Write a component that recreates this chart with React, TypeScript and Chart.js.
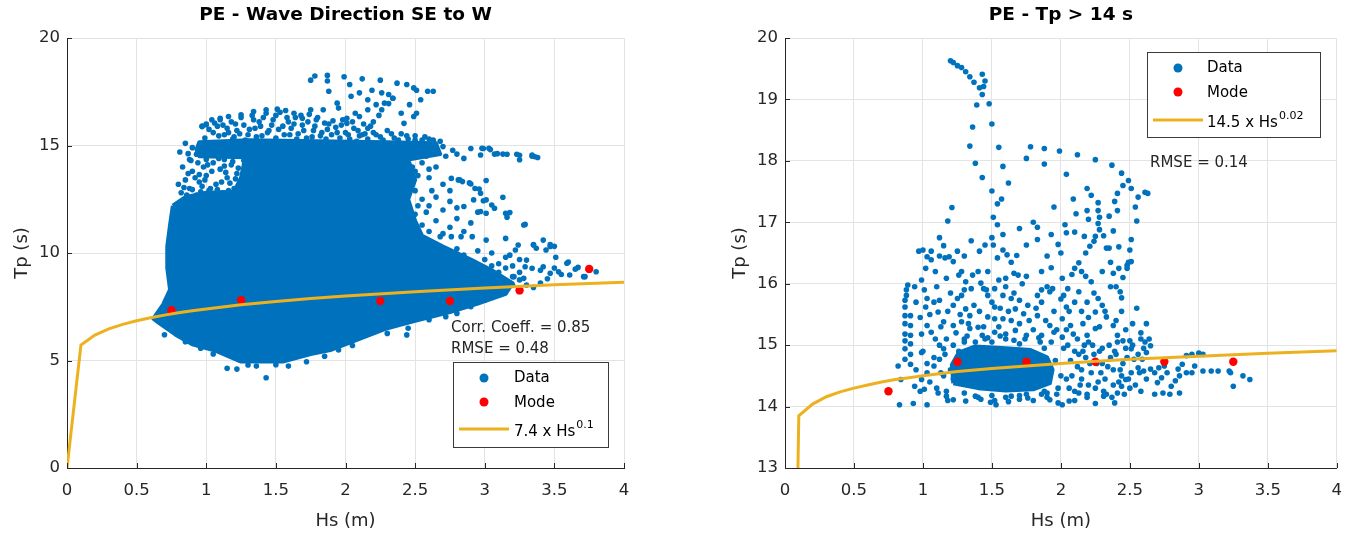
import React, { useEffect, useRef } from "react";
import { Chart, registerables } from "chart.js";
Chart.register(...registerables);

const FONT = '"DejaVu Sans", "Liberation Sans", sans-serif';
const BLUE = "#0072BD";
const RED = "#FF0000";
const GOLD = "#EDB120";
const AXIS = "#262626";
const GRID = "#e3e3e3";

const xTicks = [0, 0.5, 1, 1.5, 2, 2.5, 3, 3.5, 4];
const leftYTicks = [0, 5, 10, 15, 20];
const rightYTicks = [13, 14, 15, 16, 17, 18, 19, 20];

// ---------- Left panel: PE - Wave Direction SE to W ----------
const leftFitHs = [0, 0.1, 0.2, 0.3, 0.4, 0.5, 0.6, 0.7, 0.8, 0.9, 1, 1.25, 1.5, 1.75, 2, 2.5, 3, 3.5, 4];
const leftFitTp = [0, 5.72, 6.18, 6.47, 6.68, 6.85, 6.99, 7.11, 7.22, 7.31, 7.4, 7.59, 7.74, 7.88, 8.0, 8.2, 8.37, 8.52, 8.64];

const leftModeHs = [0.75, 1.25, 2.25, 2.75, 3.25, 3.75];
const leftModeTp = [7.34, 7.81, 7.77, 7.77, 8.26, 9.26];

// outline of the region where the data points overlap into a solid area
const leftDenseOutline: [number, number][] = [
  [0.76, 12.2], [0.85, 12.6], [1.0, 12.8], [1.2, 12.85], [1.25, 13.5], [1.28, 14.45], [0.95, 14.5], [0.93, 14.8],
  [0.95, 15.15], [1.3, 15.25], [1.8, 15.2], [2.3, 15.15], [2.65, 15.1], [2.68, 14.6], [2.45, 14.35], [2.5, 13.4],
  [2.45, 12.5], [2.5, 11.5], [2.55, 10.8], [2.7, 10.3], [2.9, 9.7], [3.05, 9.2], [3.2, 8.6], [3.15, 8.1],
  [2.95, 7.65], [2.75, 7.25], [2.5, 6.85], [2.3, 6.5], [2.1, 6.0], [1.9, 5.5], [1.75, 5.3], [1.55, 4.95],
  [1.25, 4.95], [1.07, 5.45], [0.9, 5.75], [0.78, 6.2], [0.66, 6.75], [0.62, 6.95], [0.69, 7.6], [0.74, 8.3],
  [0.72, 9.3], [0.72, 10.3], [0.74, 11.3], [0.76, 12.2],
];

const leftSparse: [number, number][] = [
  [1.78, 18.23], [1.75, 18.04], [1.87, 18.26], [1.87, 18.0], [1.99, 18.2], [2.12, 18.1], [2.25, 18.04], [2.37, 17.9],
  [2.44, 17.84], [2.49, 17.68], [2.51, 17.57], [2.59, 17.52], [2.63, 17.52], [2.19, 17.57], [2.26, 17.45], [2.34, 17.2],
  [2.28, 16.97], [2.16, 17.13], [2.1, 17.45], [2.03, 17.84], [1.94, 16.97], [2.04, 17.29], [1.88, 17.52], [1.95, 16.74],
  [1.84, 16.66], [1.75, 16.66], [2.26, 16.66], [2.4, 16.5], [2.51, 16.5], [2.46, 16.9], [2.54, 17.13], [2.49, 16.35],
  [2.42, 16.03], [2.1, 16.35], [2.01, 16.03], [2.01, 16.27], [2.07, 16.5], [2.16, 16.66], [2.22, 16.9], [2.31, 17.37],
  [2.08, 15.2], [2.12, 15.5], [2.16, 15.8], [2.2, 16.1], [2.24, 16.4], [2.31, 16.95], [2.34, 17.2],
  [1.43, 16.66], [1.51, 16.69], [1.57, 16.63], [1.63, 16.5], [1.69, 16.27], [1.34, 16.58], [1.25, 16.43], [1.16, 16.35],
  [1.1, 16.27], [1.0, 15.96], [0.97, 15.88], [1.04, 16.2],
  [0.97, 15.9], [1.0, 16.0], [1.05, 15.6], [1.08, 15.9], [1.1, 16.2], [1.13, 15.5], [1.15, 15.8], [1.18, 16.1],
  [1.2, 15.4], [1.22, 15.7], [1.25, 16.3], [1.27, 15.95], [1.3, 15.5], [1.33, 16.4], [1.35, 15.8], [1.38, 16.1],
  [1.4, 15.45], [1.43, 16.5], [1.45, 15.7], [1.48, 16.2], [1.5, 15.35], [1.53, 16.55], [1.55, 15.9], [1.58, 16.3],
  [1.6, 15.5], [1.63, 16.0], [1.65, 15.3], [1.68, 16.4], [1.7, 15.7], [1.73, 16.1], [1.76, 15.4], [1.78, 15.9],
  [1.8, 16.3], [1.83, 15.6], [1.86, 15.3], [1.88, 16.0], [1.9, 15.5], [1.93, 15.85], [1.96, 15.35], [1.98, 16.2],
  [2.0, 15.6], [2.03, 15.3], [2.06, 15.8], [2.1, 15.45], [2.13, 16.0], [2.16, 15.3], [2.2, 15.6], [2.25, 15.4],
  [2.3, 15.7], [2.35, 15.35], [2.4, 15.55], [2.45, 15.3], [2.5, 15.45], [2.55, 15.25], [2.6, 15.3], [2.7, 14.95],
  [0.99, 15.35], [1.02, 15.75], [1.06, 16.05], [1.09, 15.45], [1.12, 15.95], [1.16, 15.6], [1.19, 15.3], [1.21, 16.0],
  [1.24, 15.55], [1.28, 15.25], [1.31, 15.75], [1.34, 16.2], [1.36, 15.4], [1.39, 15.9], [1.41, 16.3], [1.44, 15.6],
  [1.47, 15.95], [1.5, 16.4], [1.52, 15.75], [1.56, 15.5], [1.59, 16.1], [1.61, 15.8], [1.64, 16.3], [1.66, 15.55],
  [1.69, 15.95], [1.72, 15.35], [1.74, 16.45], [1.77, 15.7], [1.79, 16.2], [1.82, 15.45], [1.85, 16.05], [1.87, 15.75],
  [1.91, 16.15], [1.94, 15.6], [1.97, 15.95], [2.02, 15.5], [2.05, 16.1], [2.09, 15.7], [2.14, 15.55], [2.18, 15.9],
  [2.22, 15.5], [2.27, 15.25], [2.33, 15.55], [2.38, 15.25], [2.44, 15.45], [2.5, 15.25], [2.57, 15.4], [2.63, 15.25],
  [2.68, 15.2],
  [0.81, 14.7], [0.87, 14.62], [0.93, 14.59], [0.85, 15.1], [0.9, 14.9], [0.88, 14.35],
  [2.77, 14.78], [2.9, 14.86], [2.99, 14.86], [3.04, 14.81], [3.09, 14.62], [3.16, 14.59], [3.25, 14.55], [3.25, 14.34],
  [3.34, 14.5], [3.38, 14.44], [3.34, 14.56], [3.36, 14.48], [3.23, 14.59], [3.13, 14.6], [3.07, 14.6], [3.03, 14.87],
  [2.98, 14.87], [2.97, 14.56], [2.72, 14.5], [2.8, 14.6], [2.85, 14.4],
  [2.76, 13.47], [2.81, 13.4], [2.84, 13.32], [2.89, 13.26], [2.93, 13.0], [2.97, 12.78], [3.01, 12.47], [3.05, 12.23],
  [3.07, 12.08], [3.15, 11.85], [3.16, 11.66], [3.28, 11.3], [2.92, 12.47], [2.85, 12.16], [2.97, 11.93], [3.01, 11.85],
  [3.13, 12.59], [2.99, 12.43], [3.18, 11.88], [3.29, 11.33], [3.01, 13.37], [2.96, 12.98], [2.9, 13.21], [2.82, 13.4],
  [2.75, 12.9],
  [2.5, 13.8], [2.55, 14.2], [2.6, 13.5], [2.65, 14.0], [2.7, 13.2], [2.5, 12.9], [2.55, 12.5], [2.6, 12.2],
  [2.65, 12.6], [2.7, 12.0], [2.75, 12.4], [2.8, 12.1], [2.5, 11.8], [2.55, 11.3], [2.6, 11.0], [2.65, 11.5],
  [2.7, 10.9], [2.75, 11.2], [2.8, 11.6], [2.85, 11.0], [2.9, 11.4], [2.95, 11.9], [2.5, 10.5], [2.55, 10.1],
  [2.65, 10.4], [2.7, 10.0], [2.75, 9.7], [2.8, 10.2], [2.85, 9.9], [2.9, 9.6], [2.95, 10.1], [3.0, 9.7],
  [3.05, 10.0], [3.1, 9.5], [3.15, 9.8], [3.2, 9.4], [3.25, 9.7],
  [2.48, 14.0], [2.52, 13.6], [2.47, 13.0], [2.52, 12.2], [2.58, 11.9], [2.6, 13.9], [2.58, 14.5], [2.62, 12.9],
  [3.42, 10.6], [3.47, 10.3], [3.44, 10.14], [3.37, 10.22], [3.35, 10.37], [3.24, 10.37], [3.22, 10.14], [3.18, 9.9],
  [3.3, 9.67], [3.15, 10.68], [3.01, 10.6], [2.91, 10.76], [2.83, 10.76], [2.76, 10.76], [2.68, 10.76], [3.51, 9.8],
  [3.47, 10.39], [3.5, 10.31], [3.35, 10.39],
  [3.59, 9.52], [3.67, 9.33], [3.8, 9.13], [3.71, 8.9], [3.61, 8.98], [3.53, 9.13], [3.47, 9.06], [3.42, 9.36],
  [3.34, 9.29], [3.29, 9.36], [3.28, 8.82], [3.21, 8.9], [3.16, 8.67], [3.11, 8.82], [3.06, 8.51], [3.3, 8.51],
  [3.6, 9.58], [3.4, 8.6], [3.2, 8.5], [3.35, 8.4], [3.25, 8.75], [3.45, 8.8], [3.55, 9.0], [3.0, 8.9],
  [3.05, 9.4], [3.1, 9.1], [3.15, 9.3], [3.2, 8.9], [3.25, 9.1], [3.4, 9.2], [3.5, 9.3], [3.65, 9.25], [3.72, 8.9],
  [2.72, 7.04], [2.8, 7.19], [2.9, 7.5], [3.0, 7.8], [2.6, 6.9], [2.45, 6.5], [2.44, 6.19], [2.3, 6.26],
  [1.15, 4.64], [1.22, 4.6], [1.43, 4.2], [1.3, 4.79], [1.36, 4.74], [1.59, 4.74], [1.72, 4.94], [1.95, 5.49],
  [0.96, 5.57], [0.85, 5.87], [1.05, 5.3], [1.5, 4.8], [1.85, 5.2], [2.05, 5.7], [0.7, 6.2],
  [0.82, 12.8], [0.85, 13.4], [0.88, 13.0], [0.9, 13.8], [0.93, 12.7], [0.95, 13.3], [0.98, 14.0], [1.0, 13.6],
  [1.02, 12.9], [1.05, 14.2], [1.07, 13.2], [1.1, 13.9], [1.12, 12.8], [1.15, 13.5], [1.18, 14.1], [1.2, 13.0],
  [1.22, 13.7], [1.27, 14.3], [0.97, 13.1], [1.08, 12.95], [1.17, 13.25], [1.13, 14.35], [0.9, 12.95],
  [0.8, 13.2], [0.83, 14.0], [0.86, 12.7], [0.87, 13.7], [0.89, 14.3], [0.92, 13.5], [0.94, 14.2], [0.96, 12.85],
  [0.99, 13.4], [1.01, 14.1], [1.03, 13.0], [1.04, 13.8], [1.06, 12.75], [1.09, 14.4], [1.11, 13.3], [1.14, 13.75],
  [1.16, 12.9], [1.19, 14.25], [1.21, 13.45], [1.23, 13.95], [0.84, 13.05], [0.95, 13.65], [1.0, 14.35], [1.13, 14.05],
];

// ---------- Right panel: PE - Tp > 14 s ----------
const rightFitHs = [0, 0.1, 0.2, 0.3, 0.4, 0.5, 0.6, 0.7, 0.8, 0.9, 1, 1.25, 1.5, 1.75, 2, 2.5, 3, 3.5, 4];
const rightFitTp = [0, 13.85, 14.04, 14.16, 14.24, 14.3, 14.35, 14.4, 14.44, 14.47, 14.5, 14.57, 14.62, 14.66, 14.7, 14.77, 14.82, 14.87, 14.91];

const rightModeHs = [0.75, 1.25, 1.75, 2.25, 2.75, 3.25];
const rightModeTp = [14.25, 14.73, 14.73, 14.73, 14.73, 14.73];

const rightDenseOutline: [number, number][] = [
  [1.22, 14.38], [1.21, 14.68], [1.26, 14.88], [1.38, 14.98], [1.6, 14.95], [1.78, 14.92], [1.9, 14.8], [1.94, 14.6],
  [1.92, 14.38], [1.8, 14.28], [1.6, 14.26], [1.4, 14.3], [1.22, 14.38],
];

const rightSparse: [number, number][] = [
  [1.2, 19.63], [1.22, 19.6], [1.25, 19.55], [1.28, 19.52], [1.31, 19.45], [1.34, 19.37], [1.37, 19.28], [1.43, 19.41],
  [1.45, 19.3], [1.44, 19.21], [1.41, 19.19], [1.43, 19.08], [1.39, 18.91], [1.48, 18.93], [1.5, 18.6], [1.36, 18.55],
  [1.34, 18.24], [1.38, 17.96], [1.43, 17.73], [1.5, 17.51], [1.55, 18.22], [1.58, 17.91], [1.62, 17.64], [1.57, 17.38],
  [1.54, 17.3], [1.21, 17.24], [1.18, 17.02], [1.12, 16.75], [1.51, 17.08], [1.54, 16.96], [1.5, 16.75], [1.51, 16.63],
  [1.45, 16.63], [1.41, 16.53],
  [1.75, 18.04], [1.78, 18.23], [1.88, 18.2], [1.88, 17.95], [1.99, 18.16], [2.12, 18.1], [2.25, 18.02], [2.37, 17.93],
  [2.44, 17.8], [2.49, 17.68], [2.51, 17.55], [2.56, 17.41], [2.61, 17.49], [2.63, 17.47], [2.54, 17.25], [2.55, 17.02],
  [2.51, 16.72], [2.51, 16.36], [2.49, 16.35], [2.48, 16.25], [2.45, 16.1], [2.43, 15.87], [2.44, 15.77], [2.4, 15.95],
  [2.42, 16.25],
  [2.04, 17.78], [2.09, 17.38], [2.19, 17.55], [2.22, 17.44], [2.11, 17.14], [2.19, 17.19], [2.27, 17.32], [2.27, 17.19],
  [2.28, 17.08], [2.27, 16.98], [2.28, 16.88], [2.25, 16.77], [2.24, 16.69], [2.21, 16.61], [2.18, 16.5], [2.13, 16.34],
  [2.1, 16.25], [2.08, 16.15], [2.05, 15.92], [2.02, 15.81], [2.04, 15.62], [1.95, 17.25], [2.03, 16.96], [2.04, 16.83],
  [1.93, 16.8], [1.98, 16.64], [1.93, 16.26], [2.1, 16.84], [2.17, 16.77], [2.31, 16.78], [2.35, 16.58], [2.36, 16.35],
  [2.38, 16.17], [2.33, 16.58], [2.39, 17.34], [2.41, 17.47], [2.45, 17.6], [2.41, 17.19], [2.38, 16.86], [2.5, 16.55],
  [2.48, 16.3],
  [1.83, 16.92], [1.83, 16.72], [1.75, 16.63], [1.68, 16.46], [1.64, 16.35], [1.61, 16.47], [1.58, 16.55], [1.54, 16.42],
  [1.75, 16.12], [1.69, 16.14], [1.86, 16.2], [1.94, 15.92], [1.92, 15.87], [1.86, 15.9], [1.83, 15.81], [1.66, 16.17],
  [1.6, 16.09], [1.55, 16.06], [1.47, 16.2], [1.42, 16.01], [1.36, 16.14], [1.26, 16.14], [1.22, 16.36], [1.19, 16.44],
  [1.25, 16.53], [1.16, 16.42], [1.06, 16.53], [1.03, 16.44], [0.97, 16.53], [1.06, 16.39], [1.02, 16.25], [1.09, 16.2],
  [1.17, 16.09], [0.99, 16.06], [0.94, 15.95], [0.89, 15.98], [0.88, 15.9], [0.88, 15.81], [0.87, 15.73], [0.87, 15.62],
  [0.87, 15.48], [0.87, 15.35], [0.87, 15.18], [0.87, 15.07], [0.87, 14.94], [0.87, 14.77], [0.91, 15.48], [0.91, 15.32],
  [0.91, 15.16], [0.91, 15.02], [0.91, 14.85], [0.91, 14.69], [0.82, 14.66], [0.84, 14.44], [0.83, 14.03], [0.93, 14.05],
  [1.03, 14.03], [0.99, 14.88], [1.02, 15.62], [1.03, 15.76], [1.08, 15.7], [1.12, 15.73], [1.11, 15.54], [1.15, 15.38],
  [1.03, 15.32], [1.06, 15.21], [1.09, 15.1], [0.99, 15.18],
  [1.28, 16.2], [1.31, 16.03], [1.4, 16.2], [1.44, 15.92], [1.47, 15.81], [1.52, 15.92], [1.58, 15.81], [1.64, 15.76],
  [1.7, 15.73], [1.67, 15.59], [1.52, 15.62], [1.47, 15.46], [1.52, 15.43], [1.58, 15.43], [1.64, 15.4], [1.73, 15.51],
  [1.77, 15.4], [1.83, 15.48], [1.89, 15.4], [1.92, 15.32], [2.01, 15.43], [2.07, 15.32], [2.16, 15.35], [2.19, 15.16],
  [2.25, 15.27], [2.33, 15.46], [2.38, 15.32], [2.41, 15.16], [2.45, 15.07], [2.19, 15.7], [2.13, 15.87], [2.27, 15.76],
  [2.3, 15.65], [2.25, 15.54], [2.22, 16.03], [2.18, 16.12], [2.01, 16.09], [1.35, 15.92], [1.28, 15.81], [1.25, 15.76],
  [1.22, 15.65], [1.31, 15.59], [1.34, 15.48], [1.28, 15.38], [1.22, 15.32], [1.34, 15.27], [1.4, 15.29], [1.43, 15.16],
  [1.52, 15.21], [1.6, 15.18], [1.67, 15.24], [1.75, 15.16], [1.86, 15.16], [1.95, 15.21], [2.01, 15.13], [2.09, 15.18],
  [1.17, 15.1], [1.15, 14.94], [1.12, 14.77], [1.08, 14.66], [1.03, 14.55], [0.99, 14.44], [0.94, 14.33], [1.01, 14.28],
  [1.11, 14.22], [1.17, 14.17], [1.22, 14.11], [1.31, 14.09], [1.38, 14.17], [1.49, 14.07], [1.53, 14.03], [1.64, 14.17],
  [1.76, 14.14], [1.86, 14.2], [1.92, 14.11], [1.98, 14.06], [2.01, 14.03], [2.06, 14.09], [2.13, 14.22], [2.19, 14.2],
  [2.25, 14.05], [2.31, 14.17], [2.39, 14.06], [2.41, 14.22], [2.44, 14.33], [2.47, 14.44], [2.51, 14.55], [2.53, 14.77],
  [2.51, 14.94], [2.5, 15.07], [2.58, 15.1], [2.61, 15.05], [2.64, 15.1], [2.65, 14.99], [2.62, 14.88], [2.59, 14.77],
  [2.56, 14.63], [2.57, 14.55], [2.6, 14.58], [2.65, 14.61], [2.68, 14.55], [2.71, 14.63], [2.75, 14.66], [2.77, 14.55],
  [2.73, 14.47], [2.7, 14.39], [2.68, 14.2], [2.74, 14.22], [2.8, 14.33], [2.79, 14.2], [2.83, 14.42], [2.86, 14.5],
  [2.85, 14.61], [2.88, 14.69], [2.86, 14.22], [2.91, 14.83], [2.95, 14.85], [3.0, 14.87], [3.03, 14.85], [2.91, 14.55],
  [2.95, 14.55], [2.97, 14.66], [3.03, 14.58], [3.09, 14.58], [3.14, 14.58], [3.22, 14.58], [3.23, 14.55], [3.25, 14.33],
  [3.32, 14.5], [3.37, 14.44],
  [2.05, 15.0], [2.1, 14.9], [2.12, 14.65], [2.15, 14.45], [2.18, 14.8], [2.2, 15.05], [2.22, 14.55], [2.25, 14.3],
  [2.28, 14.9], [2.3, 14.7], [2.32, 14.45], [2.35, 15.0], [2.38, 14.6], [2.4, 14.85], [2.42, 14.4], [2.45, 14.7],
  [2.47, 14.95], [2.5, 14.3], [2.06, 14.3], [2.1, 14.1], [2.15, 14.6], [2.2, 14.35], [2.26, 14.7], [2.33, 14.2],
  [2.36, 14.8], [2.44, 14.5], [2.08, 14.5], [2.13, 14.85], [2.17, 15.0], [2.24, 14.85], [2.29, 14.55], [2.38, 14.35],
  [2.41, 15.05], [0.95, 14.6], [1.0, 14.9], [1.05, 14.4], [1.08, 14.8], [1.1, 14.3], [1.12, 15.0], [0.98, 14.25],
  [1.03, 14.7], [1.13, 14.55], [1.3, 15.1], [1.45, 15.1], [1.6, 15.1], [1.85, 15.05], [1.4, 14.15], [1.6, 14.15],
  [1.75, 14.2], [1.9, 14.15],
  [1.18, 14.1], [1.22, 14.45], [1.26, 14.9], [1.32, 15.15], [1.38, 15.05], [1.42, 14.12], [1.47, 15.12], [1.52, 14.1],
  [1.56, 15.15], [1.62, 14.08], [1.66, 15.08], [1.7, 14.12], [1.74, 15.1], [1.8, 14.1], [1.84, 15.12], [1.88, 14.25],
  [1.93, 15.05], [1.97, 14.2], [2.02, 14.95], [2.04, 14.45], [2.07, 14.75], [2.1, 14.25], [2.12, 15.1], [2.14, 14.35],
  [2.16, 14.9], [2.19, 14.15], [2.21, 14.7], [2.23, 15.0], [2.27, 14.4], [2.3, 14.95], [2.31, 14.25], [2.34, 14.65],
  [2.37, 14.15], [2.39, 14.9], [2.43, 14.6], [2.46, 14.2], [2.48, 14.8], [2.49, 14.45], [2.52, 15.0], [2.54, 14.35],
  [2.56, 14.85], [2.58, 14.25], [2.6, 14.95], [2.62, 14.45],
  [1.17, 14.25], [1.15, 14.5], [1.16, 14.85], [1.22, 15.0], [1.3, 15.05], [1.5, 15.05], [1.7, 15.02], [1.88, 14.95],
  [1.96, 14.75], [2.0, 14.5], [1.98, 14.3], [1.9, 14.22], [1.7, 14.18], [1.5, 14.18], [1.3, 14.22], [1.2, 14.6],
  [0.95, 15.7], [0.98, 15.45], [1.01, 15.9], [1.05, 15.5], [1.1, 15.95], [1.13, 15.3], [1.18, 15.55], [1.2, 15.85],
  [1.24, 15.2], [1.27, 15.5], [1.3, 15.9], [1.33, 15.35], [1.37, 15.65], [1.41, 15.55], [1.44, 15.3], [1.46, 15.9],
  [1.5, 15.7], [1.55, 15.3], [1.56, 15.6], [1.6, 15.95], [1.62, 15.55], [1.66, 15.85], [1.7, 15.35], [1.72, 16.0],
  [1.76, 15.65], [1.8, 15.25], [1.82, 15.6], [1.86, 15.7], [1.9, 15.95], [1.95, 15.55], [1.97, 15.25], [2.0, 15.75],
  [2.04, 15.25], [2.06, 15.55], [2.1, 15.7], [2.15, 15.55], [2.2, 15.45], [2.24, 15.85], [2.28, 15.3], [2.32, 15.55],
  [2.36, 15.95], [2.4, 15.4], [2.44, 15.55], [2.47, 15.25], [2.52, 15.35], [2.55, 15.6], [2.58, 15.2], [2.62, 15.35],
  [1.0, 16.55], [1.12, 16.45], [1.15, 16.62], [1.3, 16.45], [1.35, 16.7], [1.58, 16.8], [1.7, 16.9], [1.8, 17.0],
  [1.9, 16.45], [2.0, 16.5], [2.15, 16.2], [2.3, 16.2], [2.2, 17.05], [2.35, 17.1], [2.42, 16.6],
];

const toXY = (xs: number[], ys: number[]) => xs.map((x, i) => ({ x, y: ys[i] }));
const pairsXY = (arr: [number, number][]) => arr.map(([x, y]) => ({ x, y }));

function makeOverlay(o: any) {
  return {
    id: "overlay" + o.key,
    afterDraw(chart: any) {
      const { ctx, chartArea: ca, scales } = chart;
      const xs = scales.x;
      const ys = scales.y;
      ctx.save();
      // inward tick marks
      ctx.strokeStyle = AXIS;
      ctx.lineWidth = 1;
      ctx.beginPath();
      xs.ticks.forEach((t: any) => {
        const px = Math.round(xs.getPixelForValue(t.value)) + 0.5;
        ctx.moveTo(px, ca.bottom);
        ctx.lineTo(px, ca.bottom - 5);
      });
      ys.ticks.forEach((t: any) => {
        const py = Math.round(ys.getPixelForValue(t.value)) + 0.5;
        ctx.moveTo(ca.left, py);
        ctx.lineTo(ca.left + 5, py);
      });
      ctx.stroke();

      // title
      ctx.fillStyle = "#000";
      ctx.textBaseline = "middle";
      ctx.textAlign = "center";
      ctx.font = `bold 18.5px ${FONT}`;
      ctx.fillText(o.title, (ca.left + ca.right) / 2, 15);

      // notes
      ctx.fillStyle = AXIS;
      ctx.textAlign = "left";
      ctx.font = `15px ${FONT}`;
      o.notes.forEach((n: any) => ctx.fillText(n.text, n.x, n.y));

      // legend
      const L = o.legend;
      ctx.fillStyle = "#fff";
      ctx.fillRect(L.x, L.y, L.w, L.h);
      ctx.strokeStyle = "#3a3a3a";
      ctx.lineWidth = 1;
      ctx.strokeRect(L.x + 0.5, L.y + 0.5, L.w, L.h);

      ctx.fillStyle = BLUE;
      ctx.beginPath();
      ctx.arc(L.dotX, L.dataY, 4.5, 0, Math.PI * 2);
      ctx.fill();
      ctx.fillStyle = RED;
      ctx.beginPath();
      ctx.arc(L.dotX, L.modeY, 4.5, 0, Math.PI * 2);
      ctx.fill();
      ctx.strokeStyle = GOLD;
      ctx.lineWidth = 3;
      ctx.beginPath();
      ctx.moveTo(L.lineX1, L.lineY);
      ctx.lineTo(L.lineX2, L.lineY);
      ctx.stroke();

      ctx.fillStyle = "#000";
      ctx.font = `15px ${FONT}`;
      ctx.fillText("Data", L.textX, L.dataY);
      ctx.fillText("Mode", L.textX, L.modeY + 1);
      ctx.fillText(o.fitText, L.textX, L.fitTextY);
      const w = ctx.measureText(o.fitText).width;
      ctx.font = `11px ${FONT}`;
      ctx.fillText(o.fitExp, L.textX + w + 1, L.fitTextY - 7);
      ctx.restore();
    },
  };
}

function buildConfig(o: any) {
  const tickFont = { family: FONT, size: 16.5 };
  const titleFont = { family: FONT, size: 18 };
  const fmt = (v: any) => String(Number(v));
  return {
    type: "scatter",
    data: {
      datasets: [
        {
          label: "fit",
          data: toXY(o.fitHs, o.fitTp),
          showLine: true,
          borderColor: GOLD,
          borderWidth: 3,
          pointRadius: 0,
          fill: false,
          order: 0,
        },
        {
          label: "Mode",
          data: toXY(o.modeHs, o.modeTp),
          pointRadius: 4.2,
          pointBackgroundColor: RED,
          pointBorderWidth: 0,
          order: 1,
        },
        {
          label: "Data",
          data: pairsXY(o.sparse),
          pointRadius: 2.8,
          pointBackgroundColor: BLUE,
          pointBorderWidth: 0,
          order: 2,
        },
        {
          label: "Data dense",
          data: pairsXY(o.dense),
          showLine: true,
          fill: "shape",
          backgroundColor: BLUE,
          borderColor: BLUE,
          borderWidth: 4,
          borderJoinStyle: "round",
          pointRadius: 0,
          order: 3,
        },
      ],
    },
    options: {
      responsive: false,
      animation: false,
      devicePixelRatio: 1,
      events: [],
      layout: { padding: { left: 0, top: 38, right: o.padRight, bottom: 0 } },
      plugins: {
        legend: { display: false },
        tooltip: { enabled: false },
        title: { display: false },
      },
      scales: {
        x: {
          type: "linear",
          min: 0,
          max: 4,
          afterBuildTicks: (s: any) => {
            s.ticks = xTicks.map((v) => ({ value: v }));
          },
          afterFit: (s: any) => {
            s.height = 66;
          },
          ticks: { color: AXIS, font: tickFont, padding: 13, maxRotation: 0, autoSkip: false, callback: fmt },
          grid: { color: GRID, drawTicks: false },
          border: { color: AXIS, width: 1 },
          title: { display: true, text: "Hs (m)", color: AXIS, font: titleFont, padding: { top: 0, bottom: 2 } },
        },
        y: {
          type: "linear",
          min: o.yTicks[0],
          max: o.yTicks[o.yTicks.length - 1],
          afterBuildTicks: (s: any) => {
            s.ticks = o.yTicks.map((v: number) => ({ value: v }));
          },
          afterFit: (s: any) => {
            s.width = 67;
          },
          ticks: { color: AXIS, font: tickFont, padding: 7, autoSkip: false, callback: fmt },
          grid: { color: GRID, drawTicks: false },
          border: { color: AXIS, width: 1 },
          title: { display: true, text: "Tp (s)", color: AXIS, font: titleFont, padding: { top: 12, bottom: 0 } },
        },
      },
    },
    plugins: [makeOverlay(o)],
  };
}

const leftPanel = {
  key: "L",
  title: "PE - Wave Direction SE to W",
  fitHs: leftFitHs,
  fitTp: leftFitTp,
  modeHs: leftModeHs,
  modeTp: leftModeTp,
  sparse: leftSparse,
  dense: leftDenseOutline,
  yTicks: leftYTicks,
  padRight: 36,
  fitText: "7.4 x Hs",
  fitExp: "0.1",
  notes: [
    { text: "Corr. Coeff. = 0.85", x: 451, y: 328 },
    { text: "RMSE = 0.48", x: 451, y: 349 },
  ],
  legend: { x: 453, y: 362, w: 155, h: 85, dotX: 484, textX: 514, dataY: 378, modeY: 402, lineY: 429, lineX1: 459, lineX2: 509, fitTextY: 432 },
};

const rightPanel = {
  key: "R",
  title: "PE - Tp > 14 s",
  fitHs: rightFitHs,
  fitTp: rightFitTp,
  modeHs: rightModeHs,
  modeTp: rightModeTp,
  sparse: rightSparse,
  dense: rightDenseOutline,
  yTicks: rightYTicks,
  padRight: 17,
  fitText: "14.5 x Hs",
  fitExp: "0.02",
  notes: [{ text: "RMSE = 0.14", x: 432, y: 163 }],
  legend: { x: 429, y: 52, w: 173, h: 85, dotX: 460, textX: 489, dataY: 68, modeY: 92, lineY: 120, lineX1: 435, lineX2: 485, fitTextY: 123 },
};

function Panel({ cfg, left, width }: { cfg: any; left: number; width: number }) {
  const ref = useRef<HTMLCanvasElement | null>(null);
  useEffect(() => {
    const chart = new Chart(ref.current as HTMLCanvasElement, buildConfig(cfg) as any);
    return () => chart.destroy();
  }, []);
  return (
    <canvas
      ref={ref}
      width={width}
      height={534}
      style={{ position: "absolute", left, top: 0, width, height: 534 }}
    />
  );
}

export default function App() {
  return (
    <div style={{ position: "fixed", left: 0, top: 0, width: 1355, height: 534, background: "#fff", overflow: "hidden" }}>
      <Panel cfg={leftPanel} left={0} width={660} />
      <Panel cfg={rightPanel} left={718} width={637} />
    </div>
  );
}
